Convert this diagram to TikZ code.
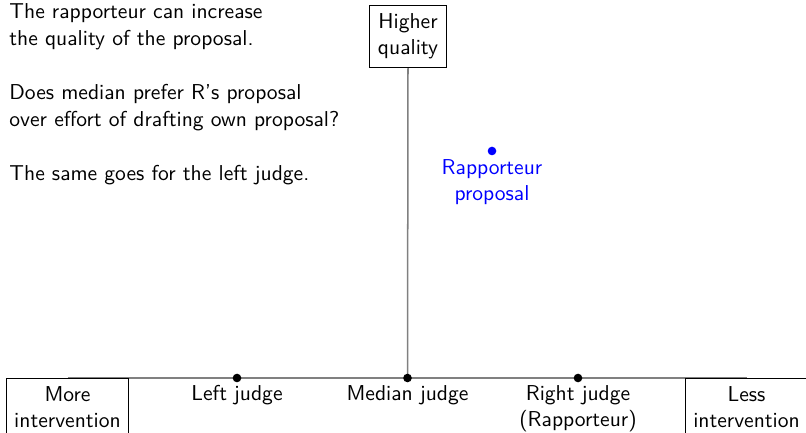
\documentclass[tikz,border=0pt]{standalone}
\usetikzlibrary{backgrounds}
\begin{document}
\begin{tikzpicture}[x=0.464pt,y=-0.464pt,
  every node/.style={font=\sffamily},
  txt/.style={anchor=base west,inner sep=0pt},
  endbox/.style={draw=black,align=center,anchor=north,line width=0.5pt,inner sep=3.8pt},
  axisline/.style={draw=gray,line width=0.7pt},
  judgedot/.style={circle,fill=black,inner sep=0pt,minimum size=4pt},
  jlabel/.style={anchor=north,align=center},
  rdot/.style={circle,fill=blue,inner sep=0pt,minimum size=4pt}]
\useasboundingbox (0,0) rectangle (806,433);
% left text
\node[txt] (t1) at (9,19) {The rapporteur can increase};
\node[txt] (t2) at (9,45.5) {the quality of the proposal.};
\node[txt] (t3) at (9,100) {Does median prefer R's proposal};
\node[txt] (t4) at (9,126.5) {over effort of drafting own proposal?};
\node[txt] (t5) at (9,181) {The same goes for the left judge.};
% boxes
\node[endbox,anchor=south] (hq) at (408,68) {Higher\\quality};
\node[endbox] (more) at (67.5,378) {More\\intervention};
\node[endbox] (less) at (746.5,378) {Less\\intervention};
% judges
\coordinate (lj) at (237,378);
\coordinate (mj) at (407.5,378);
\coordinate (rj) at (578,378);
\begin{scope}[on background layer]
  \draw[axisline] (more.north) -- (less.north);
  \draw[axisline] (hq.south) -- (mj);
\end{scope}
\node[judgedot] (ljd) at (lj) {};
\node[judgedot] (mjd) at (mj) {};
\node[judgedot] (rjd) at (rj) {};
\node[jlabel] (ljl) at (lj) {Left judge};
\node[jlabel] (mjl) at (mj) {Median judge};
\node[jlabel] (rjl) at (rj) {Right judge\\(Rapporteur)};
% rapporteur proposal
\node[rdot] (rp) at (492,151) {};
\node[jlabel,text=blue] (rpl) at (492,152) {Rapporteur\\proposal};
\end{tikzpicture}
\end{document}
